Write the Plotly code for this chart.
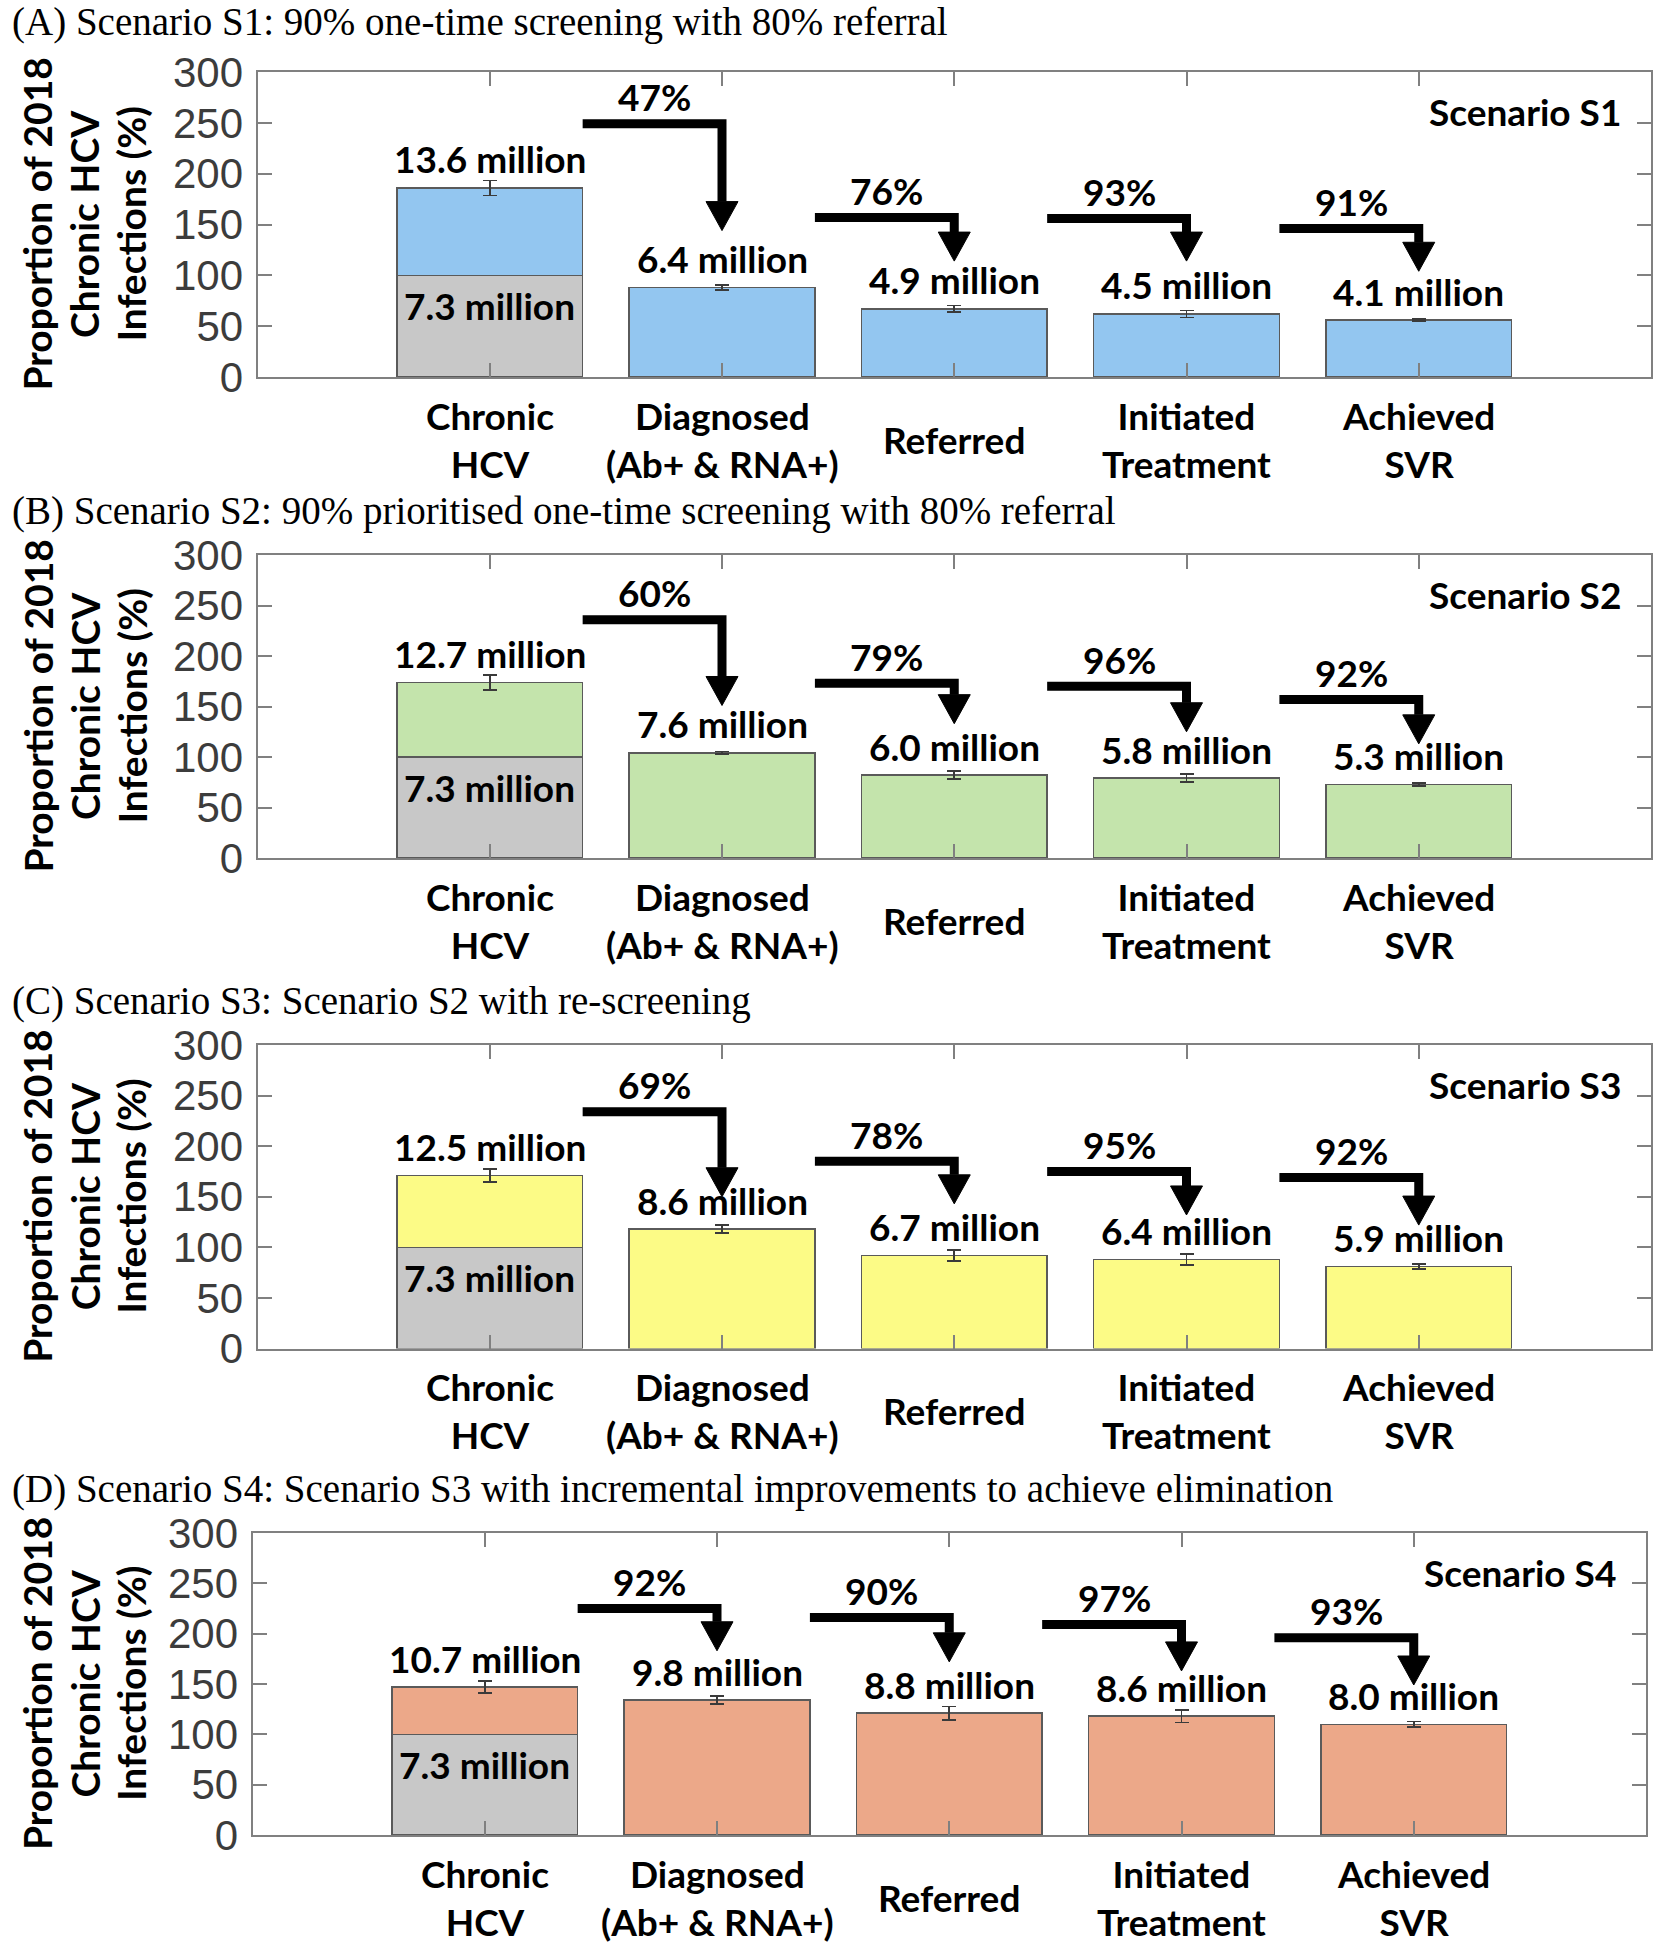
import plotly.graph_objects as go

# ---------------- data ----------------
categories = ["Chronic<br>HCV", "Diagnosed<br>(Ab+ & RNA+)", "Referred",
              "Initiated<br>Treatment", "Achieved<br>SVR"]
baseline_pct = 100          # 2018 chronic HCV infections = 100 %
baseline_label = "7.3 million"
y_ticks = [0, 50, 100, 150, 200, 250, 300]
y_title_lines = ["Proportion of 2018", "Chronic HCV", "Infections (%)"]

titles = [
    "(A) Scenario S1: 90% one-time screening with 80% referral",
    "(B) Scenario S2: 90% prioritised one-time screening with 80% referral",
    "(C) Scenario S3: Scenario S2 with re-screening",
    "(D) Scenario S4: Scenario S3 with incremental improvements to achieve elimination",
]
scenario_names = ["Scenario S1", "Scenario S2", "Scenario S3", "Scenario S4"]

s1_pct = [186, 88, 67, 62, 56]
s1_err = [7.4, 2.5, 3.3, 3.6, 1.2]
s1_millions = ["13.6 million", "6.4 million", "4.9 million", "4.5 million", "4.1 million"]
s1_steps = ["47%", "76%", "93%", "91%"]

s2_pct = [174, 104, 82, 79, 73]
s2_err = [7.4, 1.3, 4.0, 4.0, 1.5]
s2_millions = ["12.7 million", "7.6 million", "6.0 million", "5.8 million", "5.3 million"]
s2_steps = ["60%", "79%", "96%", "92%"]

s3_pct = [171, 118, 92, 88, 81]
s3_err = [6.6, 3.8, 5.3, 5.4, 2.6]
s3_millions = ["12.5 million", "8.6 million", "6.7 million", "6.4 million", "5.9 million"]
s3_steps = ["69%", "78%", "95%", "92%"]

s4_pct = [147, 134, 121, 118, 110]
s4_err = [5.8, 4.0, 6.7, 6.3, 2.6]
s4_millions = ["10.7 million", "9.8 million", "8.8 million", "8.6 million", "8.0 million"]
s4_steps = ["92%", "90%", "97%", "93%"]

# ---------------- layout helpers (positions / styles) ----------------
colors = ["#93C6F0", "#C4E4AC", "#FCFB86", "#ECA889"]
GRAY = "#C8C8C8"
EDGE = "#5A5A5A"
AX = "#808080"

# arrow levels (horizontal segment height, arrow tip height) in axis units
arrow_level = [[249, 157, 156, 146], [236, 173, 170, 157],
               [234, 185, 175, 169], [225, 216, 209, 196]]
arrow_tip = [[144, 114, 114, 104], [151, 133, 125, 113],
             [150, 143, 132, 122], [183, 172, 163, 149]]

W, H = 1667, 1950
panel_px = [(72, 377, 257.5, 1651), (555, 858, 257.5, 1651),
            (1045, 1348.5, 257.5, 1651), (1533, 1835, 252.5, 1646)]
title_px = [22, 511, 1001, 1489]
ytitle_x_px = [37, 84.5, 131]

panels = [
    dict(pct=s1_pct, err=s1_err, lab=s1_millions, steps=s1_steps),
    dict(pct=s2_pct, err=s2_err, lab=s2_millions, steps=s2_steps),
    dict(pct=s3_pct, err=s3_err, lab=s3_millions, steps=s3_steps),
    dict(pct=s4_pct, err=s4_err, lab=s4_millions, steps=s4_steps),
]

BOLD = dict(family="Lato", size=37, color="black", weight="bold")

fig = go.Figure()
annotations = []
shapes = []
layout_axes = {}

x_unit_px = (1651 - 257.5) / 6.0
head_hw = 16 / x_unit_px      # half width of arrow head in x units

for k, p in enumerate(panels):
    sfx = "" if k == 0 else str(k + 1)
    xa, ya = "x" + sfx, "y" + sfx
    top, bot, left, right = panel_px[k]
    y_unit_px = (bot - top) / 300.0
    head_h = 29 / y_unit_px

    # gray 2018 baseline segment of the first bar
    fig.add_trace(go.Bar(
        x=[categories[0]], y=[baseline_pct], width=0.8,
        marker=dict(color=GRAY, line=dict(color=EDGE, width=1.5)),
        xaxis=xa, yaxis=ya, showlegend=False, hoverinfo="skip"))
    vals = [p["pct"][0] - baseline_pct] + p["pct"][1:]
    fig.add_trace(go.Bar(
        x=categories, y=vals, width=0.8,
        marker=dict(color=colors[k], line=dict(color=EDGE, width=1.5)),
        error_y=dict(type="data", array=p["err"], color="#3A3A3A",
                     thickness=1.6, width=7),
        xaxis=xa, yaxis=ya, showlegend=False, hoverinfo="skip"))

    layout_axes["xaxis" + sfx] = dict(
        domain=[left / W, right / W], anchor=ya, type="category",
        categoryorder="array", categoryarray=categories, range=[-1, 5],
        showticklabels=False, ticks="inside", ticklen=14, tickwidth=2,
        tickcolor=AX, showline=True, linecolor=AX, linewidth=2,
        mirror="ticks", showgrid=False, zeroline=False, automargin=False)
    layout_axes["yaxis" + sfx] = dict(
        domain=[1 - bot / H, 1 - top / H], anchor=xa, range=[0, 300],
        tickvals=y_ticks, ticks="inside", ticklen=14, tickwidth=2,
        tickcolor=AX, showline=True, linecolor=AX, linewidth=2,
        mirror="ticks", showgrid=False, zeroline=False, automargin=False,
        tickfont=dict(family="Liberation Sans", size=42, color="#3C3C3C"),
        ticklabelstandoff=4)

    # value labels above bars
    for i, lab in enumerate(p["lab"]):
        annotations.append(dict(
            x=i, y=p["pct"][i], xref=xa, yref=ya, text=lab, showarrow=False,
            xanchor="center", yanchor="middle", yshift=29, font=BOLD))
    # baseline label inside the gray segment
    annotations.append(dict(
        x=0, y=baseline_pct, xref=xa, yref=ya, text=baseline_label,
        showarrow=False, xanchor="center", yanchor="middle", yshift=-30,
        font=BOLD))
    # category labels
    for i, c in enumerate(categories):
        annotations.append(dict(
            x=i, y=0, xref=xa, yref=ya, text=c, showarrow=False,
            xanchor="center", yanchor="middle", yshift=-62, font=BOLD))
    # scenario tag
    annotations.append(dict(
        x=0.98, y=261, xref=xa + " domain", yref=ya, text=scenario_names[k],
        showarrow=False, xanchor="right", yanchor="middle", font=BOLD))
    # panel title
    annotations.append(dict(
        x=10 / W, y=1 - title_px[k] / H, xref="paper", yref="paper",
        text=titles[k], showarrow=False, xanchor="left", yanchor="middle",
        font=dict(family="Liberation Serif", size=39, color="black")))
    # y axis title (three rotated lines)
    for j, line in enumerate(y_title_lines):
        annotations.append(dict(
            x=ytitle_x_px[j] / W, y=1 - (top + bot) / 2 / H, xref="paper",
            yref="paper", text=line, textangle=-90, showarrow=False,
            xanchor="center", yanchor="middle",
            font=dict(family="Lato", size=39, color="black", weight="bold")))

    # elbow arrows between stages with step percentages
    for i, step in enumerate(p["steps"]):
        x0 = i + 0.4
        x1 = i + 1
        yh = arrow_level[k][i]
        tip = arrow_tip[k][i]
        yb = tip + head_h
        shapes.append(dict(
            type="path", xref=xa, yref=ya,
            path=f"M {x0},{yh} L {x1},{yh} L {x1},{yb}",
            line=dict(color="black", width=9)))
        shapes.append(dict(
            type="path", xref=xa, yref=ya,
            path=f"M {x1 - head_hw},{yb} L {x1 + head_hw},{yb} L {x1},{tip} Z",
            fillcolor="black", line=dict(color="black", width=1)))
        annotations.append(dict(
            x=i + 0.71, y=yh, xref=xa, yref=ya, text=step, showarrow=False,
            xanchor="center", yanchor="middle", yshift=27, font=BOLD))

fig.update_layout(
    width=W, height=H, margin=dict(l=0, r=0, t=0, b=0, autoexpand=False),
    paper_bgcolor="white", plot_bgcolor="white", barmode="stack",
    bargap=0.2, showlegend=False, annotations=annotations, shapes=shapes,
    **layout_axes)

fig.write_html("out.html", config={"displayModeBar": False},
               post_script="document.body.style.margin='0';")
